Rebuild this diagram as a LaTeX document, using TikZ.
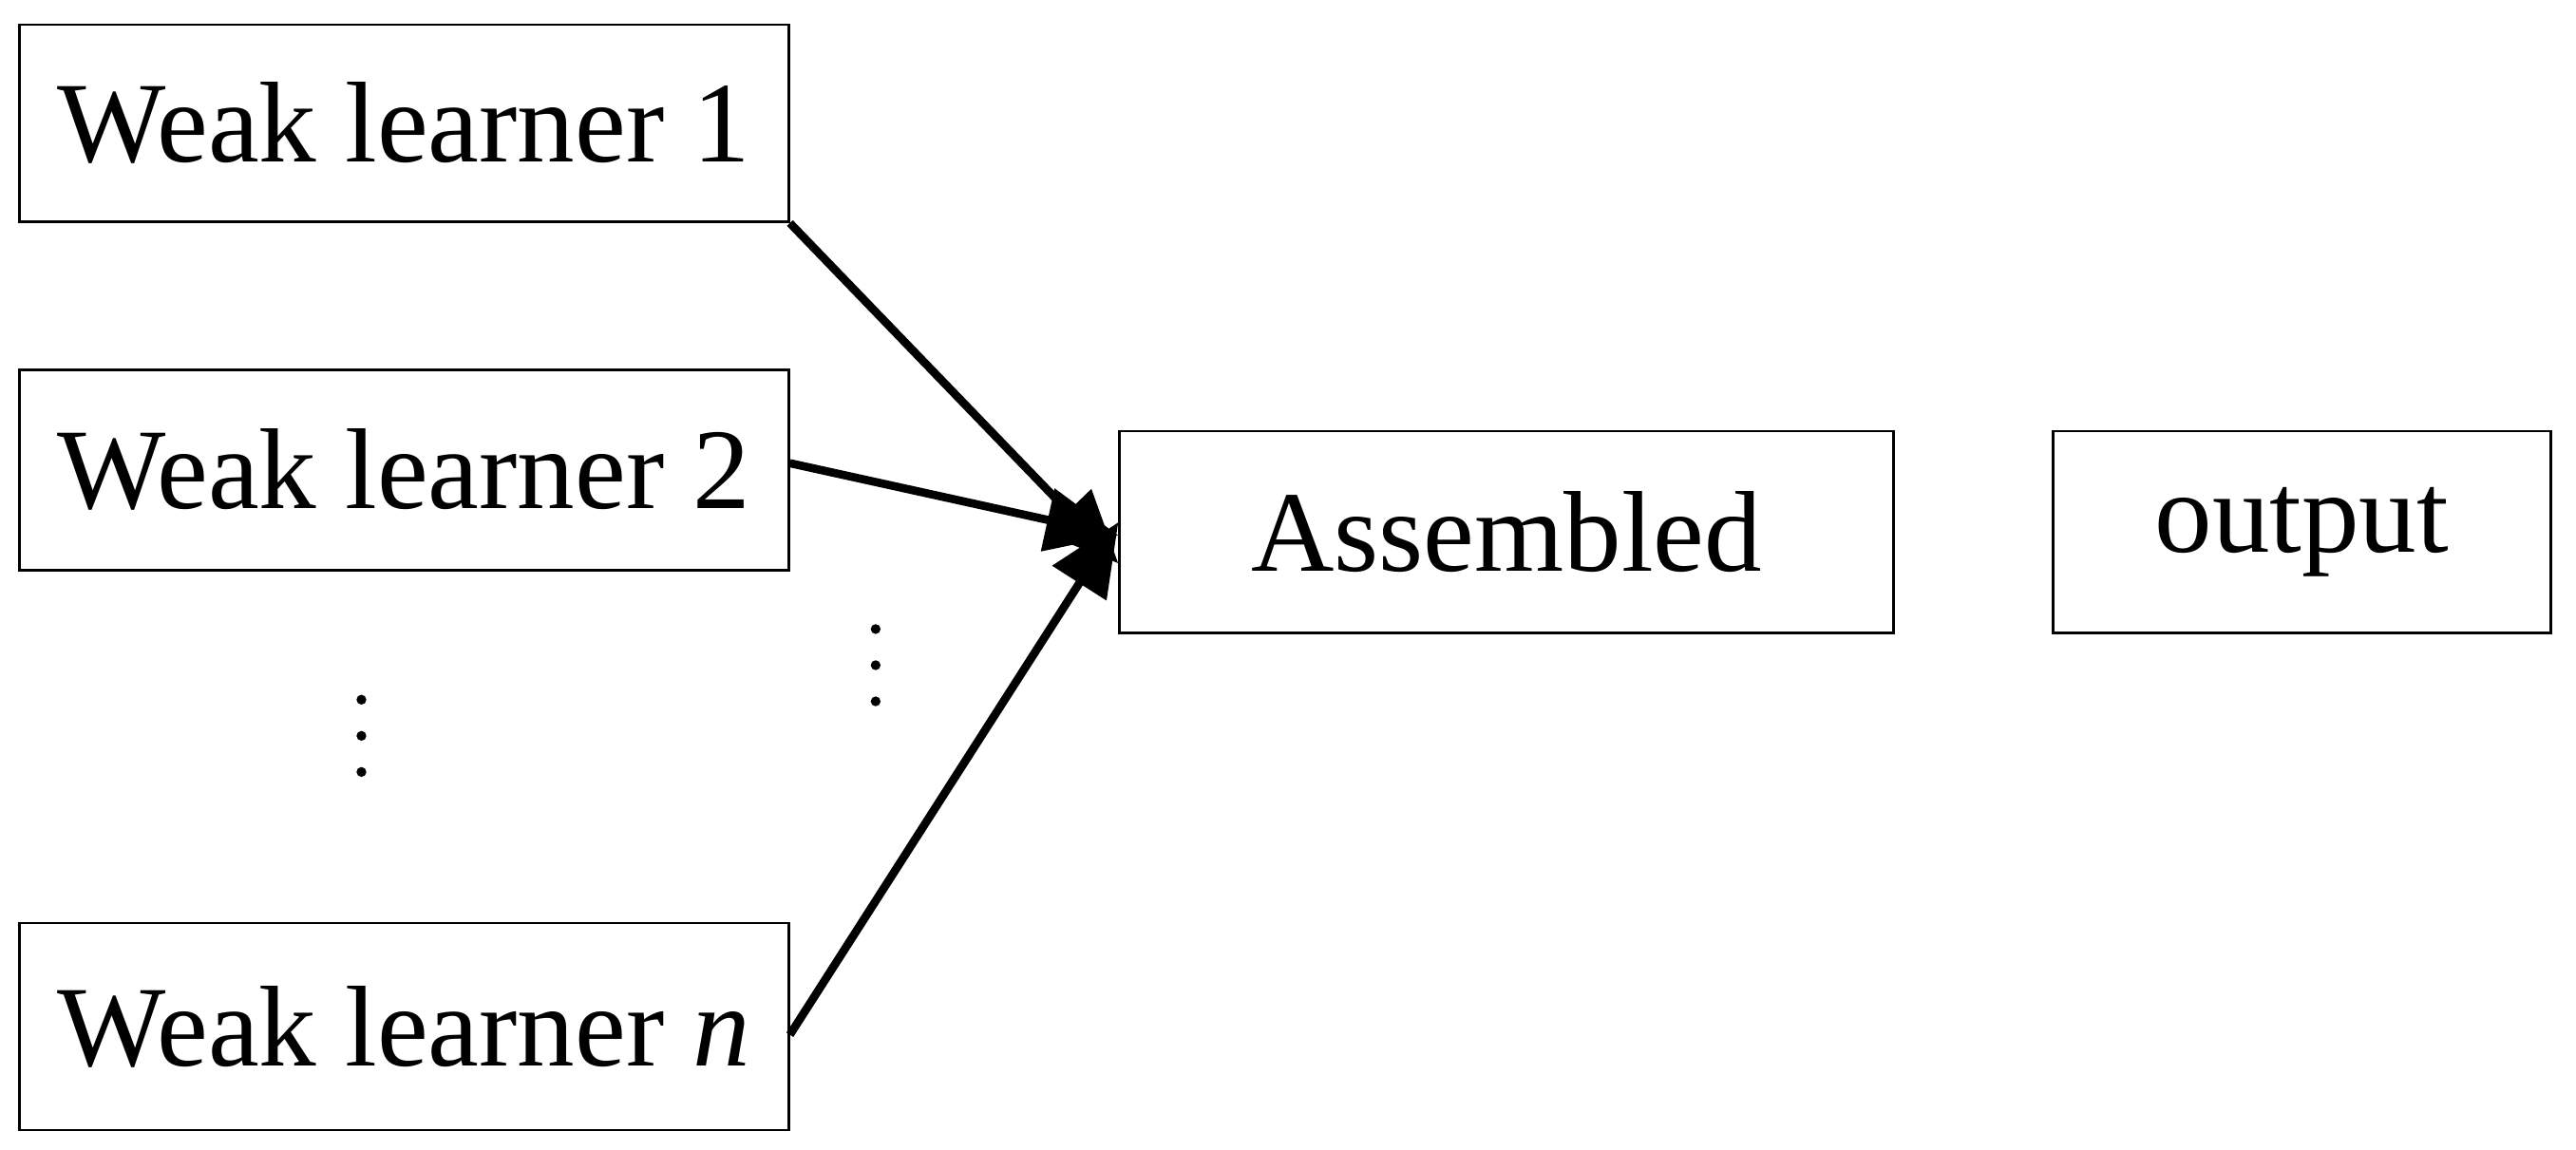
\documentclass[tikz,border=0pt]{standalone}
\usepackage{fontspec}
\setmainfont{Liberation Serif}
\usetikzlibrary{arrows.meta}
\begin{document}
\begin{tikzpicture}[x=1pt,y=-1pt,
  box/.style={draw,line width=1.6pt,inner sep=0pt,font=\fontsize{70}{74}\selectfont},
  vd/.style={minimum width=12pt,minimum height=60pt,inner sep=0pt,
    path picture={\foreach \k in {-22,0,22}{\fill ([yshift=\k pt]path picture bounding box.center) circle (3pt);}}},
  arr/.style={line width=5pt,-{Triangle[length=44pt,width=38pt]}}]
\useasboundingbox (0,0) rectangle (1568,700);
\node[box,minimum width=468pt,minimum height=120pt] (w1) at (246,75) {Weak learner 1};
\node[box,minimum width=468pt,minimum height=122pt] (w2) at (246,286) {Weak learner 2};
\node[box,minimum width=468pt,minimum height=126pt] (wn) at (246,625) {Weak learner \textit{n}};
\node[box,minimum width=471pt,minimum height=123pt] (as) at (917,324) {Assembled};
\node[box,minimum width=303pt,minimum height=123pt] (out) at (1401,324) {output};
\node[vd] (d1) at (220,448) {};
\node[vd] (d2) at (533,405) {};
\draw[arr] (w1.south east) -- ([yshift=-19pt]as.west);
\draw[arr] ([yshift=4pt]w2.east) -- ([yshift=-2pt]as.west);
\draw[arr] ([yshift=-5pt]wn.east) -- ([yshift=6pt]as.west);
\end{tikzpicture}
\end{document}
